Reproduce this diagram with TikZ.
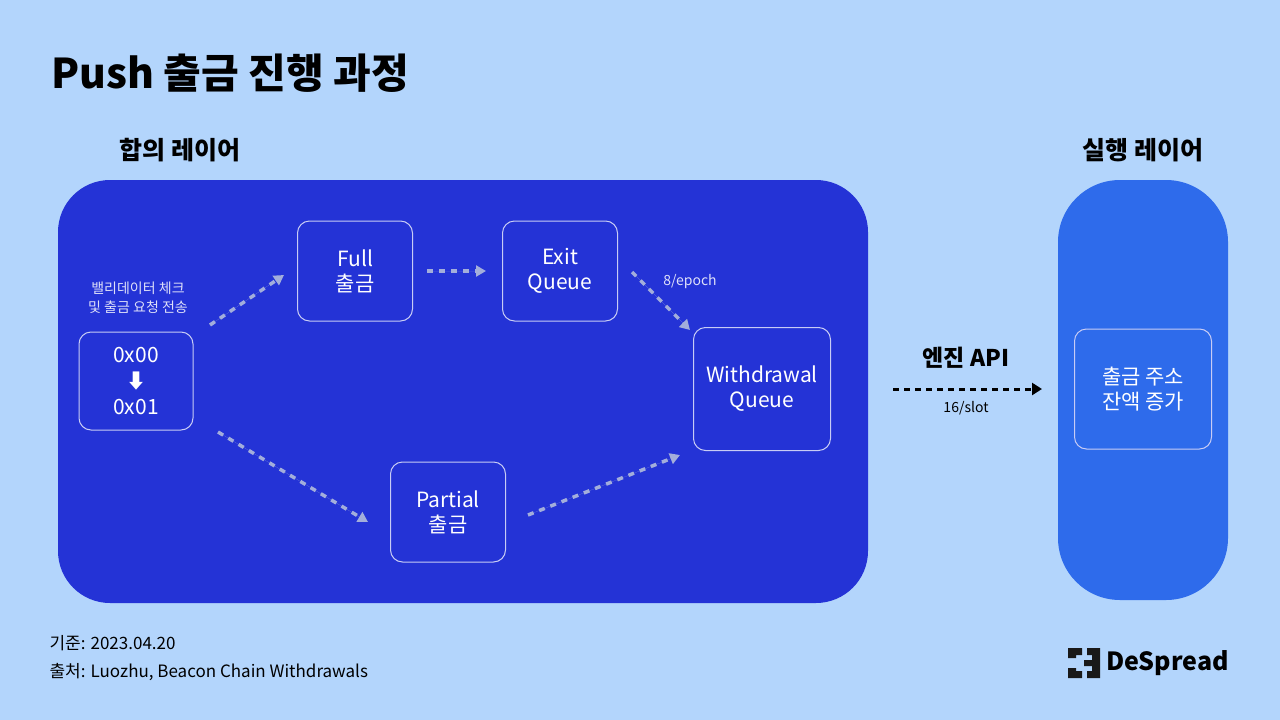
\documentclass[tikz,border=0pt]{standalone}
\usepackage{fontspec}
\setmainfont{Noto Sans CJK KR}
\usetikzlibrary{arrows.meta,positioning}
\definecolor{bgblue}{HTML}{B3D5FC}
\definecolor{clblue}{HTML}{2433D6}
\definecolor{elblue}{HTML}{2E6BEB}
\definecolor{arrgray}{HTML}{A3AEDB}
\tikzset{
  step box/.style={
    % the shape
    rectangle, rounded corners=12pt,
    draw=white!75!clblue, line width=1pt,
    % the text
    text=white, font=\fontsize{21}{25}\selectfont, align=center,
    inner sep=0pt},
  flow/.style={-{Triangle[length=10pt,width=11pt]}, draw=arrgray, fill=arrgray,
    line width=3.5pt, dash pattern=on 6pt off 6pt},
  layer/.style={font=\bfseries\fontsize{25}{28}\selectfont, text=black}
}
\begin{document}
\begin{tikzpicture}[x=1pt,y=-1pt]
  \fill[bgblue] (0,0) rectangle (1280,720);
  \useasboundingbox (0,0) rectangle (1280,720);

  % title and layers
  \node[anchor=west, font=\bfseries\fontsize{41}{44}\selectfont] (title) at (48,73) {Push 출금 진행 과정};
  \node[layer] (cl) at (180,150) {합의 레이어};
  \node[layer] (el) at (1143,150) {실행 레이어};
  \fill[clblue, rounded corners=52pt] (58,180) rectangle (868,603);
  \fill[elblue, rounded corners=62pt] (1058,180) rectangle (1228,600);

  % steps
  \node[step box, minimum width=114pt, minimum height=98pt] (ver) at (136,381)
    {0x00\\[1pt]{\fontsize{20}{20}\selectfont\textbf{⬇}}\\[1pt]0x01};
  \node[text=white!85!clblue, font=\fontsize{14}{19}\selectfont, align=center] (check) at (138,298)
    {밸리데이터 체크\\및 출금 요청 전송};
  \node[step box, minimum width=115pt, minimum height=100pt] (full) at (355,271) {Full\\출금};
  \node[step box, minimum width=115pt, minimum height=100pt] (exit) at (560,271) {Exit\\Queue};
  \node[step box, minimum width=137pt, minimum height=123pt] (wq) at (762,389) {Withdrawal\\Queue};
  \node[step box, minimum width=115pt, minimum height=100pt] (part) at (448,512) {Partial\\출금};
  \node[step box, minimum width=137pt, minimum height=120pt] (addr) at (1143,389) {출금 주소\\잔액 증가};

  % connectors
  \coordinate (a1) at (210,325); \coordinate (b1) at (284,275);
  \coordinate (a2) at (218,432); \coordinate (b2) at (368,522);
  \coordinate (a3) at (632,272); \coordinate (b3) at (690,330);
  \coordinate (a4) at (528,515); \coordinate (b4) at (680,455);
  \draw[flow] (a1) -- (b1);
  \draw[flow] ([xshift=14pt]full.east) -- ([xshift=-16pt]exit.west);
  \draw[flow] (a3) -- (b3);
  \draw[flow] (a2) -- (b2);
  \draw[flow] (a4) -- (b4);
  \node[text=white!85!clblue, font=\fontsize{14}{16}\selectfont] (ep) at (690,282) {8/epoch};

  \coordinate (e1) at (893,389); \coordinate (e2) at (1042,389);
  \draw[-{Triangle[length=10pt,width=12pt]}, line width=3pt, dash pattern=on 6pt off 5pt] (e1) -- (e2);
  \node[font=\bfseries\fontsize{23}{25}\selectfont] (api) at (966,358) {엔진 API};
  \node[font=\fontsize{14}{16}\selectfont] (slot) at (966,408) {16/slot};

  % footer
  \node[anchor=west, font=\fontsize{17}{19}\selectfont] (date) at (46,643) {기준: 2023.04.20};
  \node[anchor=west, font=\fontsize{17}{19}\selectfont] (src) at (46,672) {출처: Luozhu, Beacon Chain Withdrawals};
  \fill[black!90] (1068,648) rectangle (1076,658) (1068,668) rectangle (1076,678)
    (1068,648) rectangle (1082,655) (1068,671) rectangle (1082,678)
    (1087,648) rectangle (1100,655) (1087,671) rectangle (1100,678)
    (1092,648) rectangle (1100,678) (1084,660) rectangle (1100,666);
  \node[anchor=west, font=\bfseries\fontsize{25}{28}\selectfont, inner sep=0pt] (logo) at (1106,663) {DeSpread};
\end{tikzpicture}
\end{document}
